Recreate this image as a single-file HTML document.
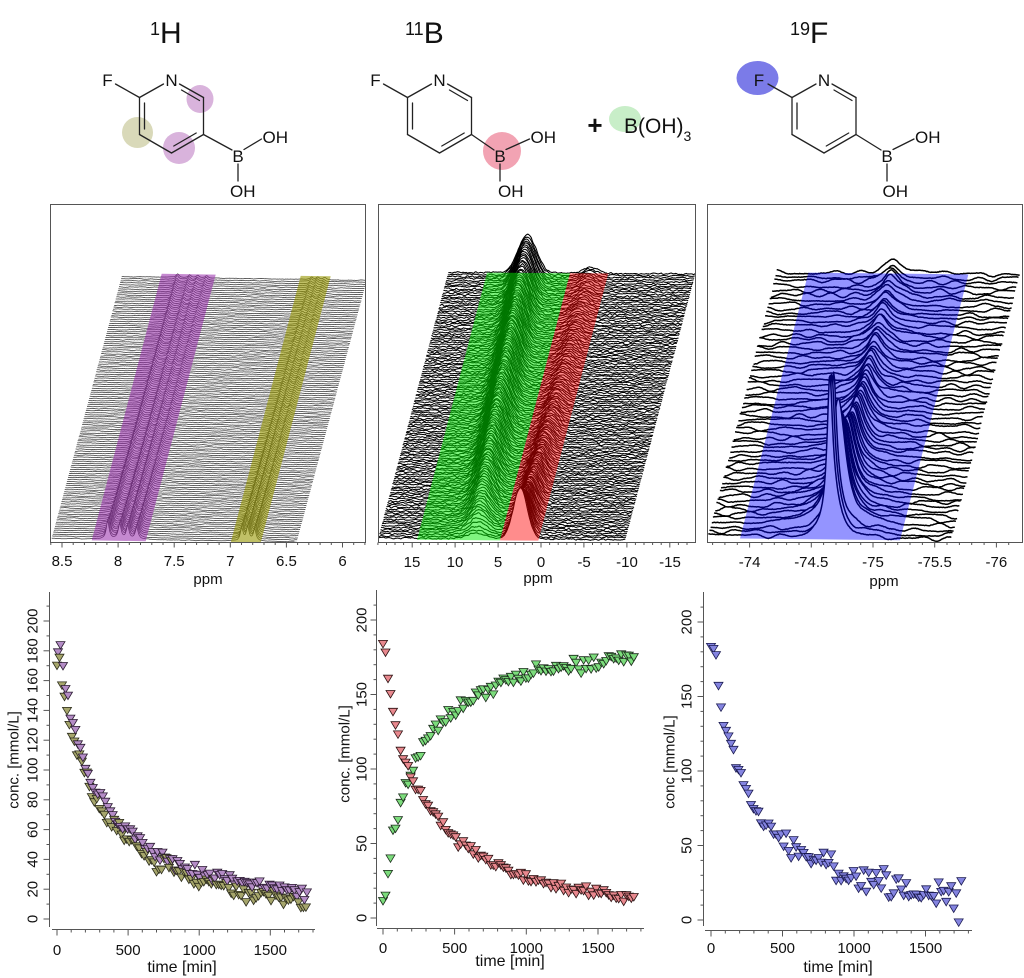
<!DOCTYPE html>
<html><head><meta charset="utf-8"><title>chart</title>
<style>
html,body{margin:0;padding:0;background:#fff;overflow:hidden}
svg{display:block}
text{font-family:"Liberation Sans",Arial,sans-serif;fill:#111}
</style>
</head><body>
<svg id="c" xmlns="http://www.w3.org/2000/svg" width="1024" height="978" viewBox="0 0 1024 978">
<defs>
<clipPath id="cp1"><rect x="50.5" y="204.5" width="315" height="338"/></clipPath>
<clipPath id="cp2"><rect x="378.5" y="204.5" width="317" height="338"/></clipPath>
<clipPath id="cp3"><rect x="707.5" y="204.5" width="315" height="338"/></clipPath>
</defs>
<rect width="1024" height="978" fill="#fff"/>
<g id="mol"></g>
<g id="L"></g>

<!-- titles -->
<text x="150" y="43" font-size="30"><tspan font-size="18" dy="-8">1</tspan><tspan dy="8">H</tspan></text>
<text x="405" y="43" font-size="30"><tspan font-size="18" dy="-8">11</tspan><tspan dy="8">B</tspan></text>
<text x="790" y="43" font-size="30"><tspan font-size="18" dy="-8">19</tspan><tspan dy="8">F</tspan></text>

<!-- molecule 1 labels -->
<text x="107.5" y="86" font-size="17" text-anchor="middle">F</text>
<text x="171.5" y="86" font-size="17" text-anchor="middle">N</text>
<text x="238" y="162" font-size="17" text-anchor="middle">B</text>
<text x="262.5" y="143" font-size="17">OH</text>
<text x="230" y="197" font-size="17">OH</text>
<!-- molecule 2 labels -->
<text x="375.5" y="86" font-size="17" text-anchor="middle">F</text>
<text x="439.5" y="86" font-size="17" text-anchor="middle">N</text>
<text x="500" y="162" font-size="17" text-anchor="middle">B</text>
<text x="530.5" y="143" font-size="17">OH</text>
<text x="498" y="197" font-size="17">OH</text>
<text x="595" y="134" font-size="26" font-weight="bold" text-anchor="middle">+</text>
<text x="624" y="133" font-size="21">B(OH)<tspan font-size="14" dy="8">3</tspan></text>
<!-- molecule 3 labels -->
<text x="759" y="86" font-size="17" text-anchor="middle">F</text>
<text x="824" y="86" font-size="17" text-anchor="middle">N</text>
<text x="887" y="162" font-size="17" text-anchor="middle">B</text>
<text x="915" y="143" font-size="17">OH</text>
<text x="882.5" y="197" font-size="17">OH</text>

<!-- panel 1 axis labels -->
<g font-size="15" text-anchor="middle">
<text x="62" y="566">8.5</text>
<text x="118.1" y="566">8</text>
<text x="174.2" y="566">7.5</text>
<text x="230.3" y="566">7</text>
<text x="286.4" y="566">6.5</text>
<text x="342.5" y="566">6</text>
<text x="208" y="584">ppm</text>
<!-- panel 2 -->
<text x="412" y="567">15</text>
<text x="455" y="567">10</text>
<text x="498" y="567">5</text>
<text x="541" y="567">0</text>
<text x="584" y="567">-5</text>
<text x="627" y="567">-10</text>
<text x="670" y="567">-15</text>
<text x="538" y="583">ppm</text>
<!-- panel 3 -->
<text x="749.6" y="567">-74</text>
<text x="811.3" y="567">-74.5</text>
<text x="873" y="567">-75</text>
<text x="934.7" y="567">-75.5</text>
<text x="996.4" y="567">-76</text>
<text x="884" y="586">ppm</text>
</g>

<!-- plot 1 labels -->
<g font-size="15" text-anchor="middle">
<text transform="translate(32,919) rotate(-90)" dy="5.4">0</text>
<text transform="translate(32,889.2) rotate(-90)" dy="5.4">20</text>
<text transform="translate(32,859.4) rotate(-90)" dy="5.4">40</text>
<text transform="translate(32,829.6) rotate(-90)" dy="5.4">60</text>
<text transform="translate(32,799.8) rotate(-90)" dy="5.4">80</text>
<text transform="translate(32,770) rotate(-90)" dy="5.4">100</text>
<text transform="translate(32,740.2) rotate(-90)" dy="5.4">120</text>
<text transform="translate(32,710.4) rotate(-90)" dy="5.4">140</text>
<text transform="translate(32,680.6) rotate(-90)" dy="5.4">160</text>
<text transform="translate(32,650.8) rotate(-90)" dy="5.4">180</text>
<text transform="translate(32,621) rotate(-90)" dy="5.4">200</text>
<text transform="translate(13,760) rotate(-90)" dy="5.4">conc. [mmol/L]</text>
<text x="57" y="955">0</text>
<text x="128.1" y="955">500</text>
<text x="199.2" y="955">1000</text>
<text x="270.3" y="955">1500</text>
<text x="182" y="972" font-size="16">time [min]</text>
</g>
<!-- plot 2 labels -->
<g font-size="15" text-anchor="middle">
<text transform="translate(361,918) rotate(-90)" dy="5.4">0</text>
<text transform="translate(361,843.5) rotate(-90)" dy="5.4">50</text>
<text transform="translate(361,769) rotate(-90)" dy="5.4">100</text>
<text transform="translate(361,694.5) rotate(-90)" dy="5.4">150</text>
<text transform="translate(361,620) rotate(-90)" dy="5.4">200</text>
<text transform="translate(344,754) rotate(-90)" dy="5.4">conc. [mmol/L]</text>
<text x="383" y="953">0</text>
<text x="454.7" y="953">500</text>
<text x="526.3" y="953">1000</text>
<text x="598" y="953">1500</text>
<text x="510" y="966" font-size="16">time [min]</text>
</g>
<!-- plot 3 labels -->
<g font-size="15" text-anchor="middle">
<text transform="translate(686,920) rotate(-90)" dy="5.4">0</text>
<text transform="translate(686,845.5) rotate(-90)" dy="5.4">50</text>
<text transform="translate(686,771) rotate(-90)" dy="5.4">100</text>
<text transform="translate(686,696.5) rotate(-90)" dy="5.4">150</text>
<text transform="translate(686,622) rotate(-90)" dy="5.4">200</text>
<text transform="translate(669,762) rotate(-90)" dy="5.4">conc [mmol/L]</text>
<text x="711" y="953">0</text>
<text x="782.5" y="953">500</text>
<text x="854" y="953">1000</text>
<text x="925.5" y="953">1500</text>
<text x="838" y="972" font-size="16">time [min]</text>
</g>
</svg>
<script>
(function(){
const NS='http://www.w3.org/2000/svg';
const LAY=document.getElementById('L');
function E(tag,a,p){const e=document.createElementNS(NS,tag);for(const k in a)e.setAttribute(k,a[k]);(p||LAY).appendChild(e);return e;}
let sd=123456789;
function rnd(){sd^=sd<<13;sd^=sd>>>17;sd^=sd<<5;return (sd>>>0)/4294967296;}
function nrm(){return (rnd()+rnd()+rnd()+rnd()-2)*1.73;}
function itp(K,t){if(t<=K[0][0])return K[0][1];for(let j=1;j<K.length;j++){if(t<=K[j][0]){const a=K[j-1],b=K[j];return a[1]+(b[1]-a[1])*(t-a[0])/(b[0]-a[0]);}}return K[K.length-1][1];}

const P1=[[0,181],[20,184],[40,163],[55,156],[70,148],[85,140],[100,132],[130,120],[160,110],[200,100],[250,90],[300,81],[350,74],[400,68],[500,58],[600,50],[700,44],[800,39],[900,35],[1000,32],[1100,29],[1200,27],[1300,25],[1400,23],[1500,21],[1600,19],[1750,16]];
const O1=[[0,176],[20,177],[40,156],[55,149],[70,141],[85,134],[100,126],[130,115],[160,105],[200,95],[250,84],[300,75],[350,68],[400,62],[500,52],[600,45],[700,39],[800,34],[900,29],[1000,25],[1100,23],[1200,20],[1300,18],[1400,16],[1500,15],[1600,13],[1750,11]];
const R=[[0,184],[20,177],[40,157],[55,148],[70,139],[85,132],[100,126],[115,119],[130,113],[150,107],[175,100],[200,93],[250,83],[300,76],[400,64],[500,53],[600,46],[700,40],[800,35],[900,30],[1000,27],[1200,22],[1400,18],[1600,15],[1750,13]];
const G=[[0,10],[15,12],[40,34],[55,45],[65,55],[80,62],[95,68],[120,75],[140,82],[160,88],[180,93],[200,100],[250,110],[300,118],[400,130],[500,140],[600,147],[700,152],[800,156],[900,160],[1000,163],[1200,167],[1400,170],[1600,173],[1750,175]];
const F3=[[0,181],[15,180],[30,178],[40,174],[55,157],[65,143],[80,136],[95,134],[110,128],[130,120],[150,112],[175,105],[200,100],[250,90],[300,76],[350,70],[400,64],[450,60],[500,54],[600,47],[700,41],[800,36],[900,31],[1000,28],[1100,26],[1200,23],[1300,21],[1400,20],[1500,18],[1600,17],[1750,15]];

/* molecules */
const MG=document.getElementById('mol');
function circ(cx,cy,rx,ry,fill){E('ellipse',{cx:cx,cy:cy,rx:rx,ry:ry,fill:fill},MG);}
circ(137.5,132.5,15.5,15.5,'#d9d9b9');
circ(200,99,13.5,14,'#d9b3dc');
circ(179,148,16,16,'#d9b3dc');
circ(502,151,19,19,'#f2a3b3');
circ(625,119,16,13,'#c8eec8');
circ(757.5,78,21,17,'#7b7be8');
function mol(cx,bx){
  const ln=(x1,y1,x2,y2)=>E('line',{x1:x1,y1:y1,x2:x2,y2:y2,stroke:'#222','stroke-width':1.3,'stroke-linecap':'round'},MG);
  ln(cx-56,84,cx-32,97.5);
  ln(cx-32,97.5,cx-8,84);
  ln(cx+8,84,cx+32,97.5);
  ln(cx+10,90,cx+28,100.5);
  ln(cx+32,97.5,cx+32,134.5);
  ln(cx+32,134.5,cx,153);
  ln(cx+24.7,133,cx+2.3,146);
  ln(cx,153,cx-32,134.5);
  ln(cx-32,134.5,cx-32,97.5);
  ln(cx-27,103,cx-27,129);
  ln(cx+32,134.5,bx-6,150);
  ln(bx+6,149.5,cx+90,139);
  ln(bx,164,bx,181);
}
mol(171.5,238);mol(439.5,500);mol(824,887);

/* spectra stacks */
function noiseFn(w,Lk,A,F){const n=Math.ceil(w/Lk)+3,k=[];for(let j=0;j<n;j++)k.push((rnd()*2-1)*A);return u=>{const p=u/Lk,j=Math.floor(p),fr=p-j,s=(1-Math.cos(fr*Math.PI))/2;return k[j]*(1-s)+k[j+1]*s+(rnd()*2-1)*F;};}
function stack(o){
  const g=E('g',{'clip-path':'url(#'+o.clip+')'});
  const N=o.N;
  for(let i=N-1;i>=0;i--){
    const f=i/(N-1),ox=o.x0+f*o.dx,oy=o.yb-f*o.dy,t=f*1750;
    const pk=o.peaks(f,t,i);
    const nz=noiseFn(o.w,o.nL,o.nA,o.nF);
    const M=Math.round(o.w/o.res);
    let d='';
    for(let k=0;k<=M;k++){
      const u=k*o.res;let y=nz(u);
      for(const p of pk){const z=(u-p.u)/p.s;y+=p.g?p.h*Math.exp(-0.5*z*z):p.h/(1+z*z);}
      d+=(k?'L':'M')+(ox+u).toFixed(1)+','+(oy-y+o.tilt*u).toFixed(1);
    }
    E('path',{d:d+'L'+(ox+o.w).toFixed(1)+','+(oy+o.fb+o.tilt*o.w).toFixed(1)+'L'+ox.toFixed(1)+','+(oy+o.fb).toFixed(1)+'Z',fill:'#fff'},g);
    E('path',{d:d,fill:'none',stroke:o.col,'stroke-width':o.sw,'stroke-linejoin':'round'},g);
  }
  for(const b of o.bands){
    const y1=o.yb+1.5,y2=o.yb-o.dy-(o.btop||0);
    const xt=o.x0+o.dx;
    const pts=[[o.x0+b.l,y1+o.tilt*b.l],[o.x0+b.r,y1+o.tilt*b.r],[xt+b.r,y2+o.tilt*b.r],[xt+b.l,y2+o.tilt*b.l]];
    E('polygon',{points:pts.map(p=>p[0].toFixed(1)+','+p[1].toFixed(1)).join(' '),fill:b.c},g);
  }
}
stack({clip:'cp1',x0:51.7,yb:538.3,w:245,dx:70,dy:261.6,N:130,res:0.7,tilt:0.015,nL:6,nA:0.35,nF:0.12,col:'#3a3a3a',sw:0.75,fb:0.8,btop:3.5,
  peaks:(f,t)=>{const c=itp(P1,t)/181,h=18*(0.12+0.88*c);const q=[];
    [[56,1],[68,.82],[76,.74],[85,.64]].forEach(a=>q.push({u:a[0],s:1.7,h:h*a[1]}));
    [[190,.7],[196,.75],[203,.65]].forEach(a=>q.push({u:a[0],s:1.7,h:h*a[1]}));return q;},
  bands:[{l:40,r:94,c:'rgba(150,40,170,0.55)'},{l:179,r:209,c:'rgba(150,150,0,0.6)'}]});
stack({clip:'cp2',x0:378.3,yb:538,w:247,dx:70,dy:265.7,N:130,res:1,tilt:0.007,nL:2.5,nA:0.8,nF:0.3,col:'#000',sw:1.05,fb:1,
  peaks:(f,t)=>[{u:142,s:7,g:1,h:3+48*itp(R,t)/184},{u:98-19*f,s:9,g:1,h:4+34*itp(G,t)/175}],
  bands:[{l:38.7,r:121.7,c:'rgba(0,235,0,0.5)'},{l:121.7,r:160,c:'rgba(255,0,0,0.45)'}]});
stack({clip:'cp3',x0:708.3,yb:536.7,w:243.4,dx:68.4,dy:264.4,N:60,res:1,tilt:0.011,nL:12,nA:2.6,nF:0.25,col:'#000',sw:1.5,fb:1.5,
  peaks:(f,t,i)=>{const c=itp(F3,t)/181;if(i<3)return [{u:121.5+i*0.8,s:3.2,h:[135,130,124][i]},{u:126,s:9,h:36}];return [{u:127-10*f,s:9,h:172*c}];},
  bands:[{l:31.7,r:191.7,c:'rgba(0,0,255,0.42)'}]});

/* panel boxes & ticks */
const ax={stroke:'#555','stroke-width':1,fill:'none'};
E('rect',Object.assign({x:50.5,y:204.5,width:315,height:338},ax));
E('rect',Object.assign({x:378.5,y:204.5,width:317,height:338},ax));
E('rect',Object.assign({x:707.5,y:204.5,width:315,height:338},ax));
function vt(x,y,len){E('line',{x1:x.toFixed(1),y1:y,x2:x.toFixed(1),y2:y+len,stroke:'#555','stroke-width':1});}
function ht(x,y,len){E('line',{x1:x,y1:y.toFixed(1),x2:x-len,y2:y.toFixed(1),stroke:'#555','stroke-width':1});}
for(let k=86;k>=58;k--){const v=k/10;vt(62+(8.5-v)*112.2,542.5,k%5==0?5:2.5);}
for(let v=19;v>=-17;v--){vt(541-8.586*v,542.5,v%5==0?5:2.5);}
for(let k=-737;k>=-761;k--){const v=k/10;vt(873+(-75-v)*123.4,542.5,k%5==0?5:2.5);}

/* bottom plot axes */
function hl(x1,x2,y){E('line',{x1:x1,y1:y,x2:x2,y2:y,stroke:'#555','stroke-width':1});}
function vl(x,y1,y2){E('line',{x1:x,y1:y1,x2:x,y2:y2,stroke:'#555','stroke-width':1});}
vl(49.5,592,927);hl(52,315,929.5);
for(let v=0;v<=210;v+=10)ht(49.5,919-1.49*v,v%20==0?6:3);
for(let t=0;t<=1800;t+=100)vt(57+0.1422*t,929.5,t%500==0?6:3);
vl(376.5,590,926);hl(377,644,928.5);
for(let v=0;v<=210;v+=10)ht(376.5,918-1.49*v,v%50==0?6:3);
for(let t=0;t<=1800;t+=100)vt(383+0.1433*t,928.5,t%500==0?6:3);
vl(703.5,592,926);hl(705,972,930.5);
for(let v=0;v<=210;v+=10)ht(703.5,920-1.49*v,v%50==0?6:3);
for(let t=0;t<=1800;t+=100)vt(711+0.143*t,930.5,t%500==0?6:3);

/* scatter */
function tri(x,y,fill,stroke){E('path',{d:'M'+(x-4.5).toFixed(1)+','+(y-3.5).toFixed(1)+'L'+(x+4.5).toFixed(1)+','+(y-3.5).toFixed(1)+'L'+x.toFixed(1)+','+(y+4).toFixed(1)+'Z',fill:fill,stroke:stroke,'stroke-width':0.8});}
for(let t=0;t<=1750;t+=17.5){
  const cp=itp(P1,t)+nrm()*2.2, co=itp(O1,t)+nrm()*2.8;
  tri(57+0.1422*t,919-1.49*co,'#a6a66c','#2a2a1a');
  tri(57+0.1422*t+1,919-1.49*cp,'#b48cc6','#2a1a30');
}
for(let t=0;t<=1750;t+=17.5){
  const cg=itp(G,t)+nrm()*2.4;
  tri(383+0.1433*t,918-1.49*cg,'#7cdc7c','#1a2a1a');
}
for(let t=0;t<=1750;t+=17.5){
  const cr=itp(R,t)+nrm()*1.8;
  tri(383+0.1433*t,918-1.49*cr,'#e8888e','#2a1010');
}
for(let t=0;t<=1750;t+=17.5){
  const c=itp(F3,t)+nrm()*(2.5+4*t/1750);
  tri(711+0.143*t,920-1.49*c,'#8484e0','#1a1a50');
}
})();
</script>
</body></html>
